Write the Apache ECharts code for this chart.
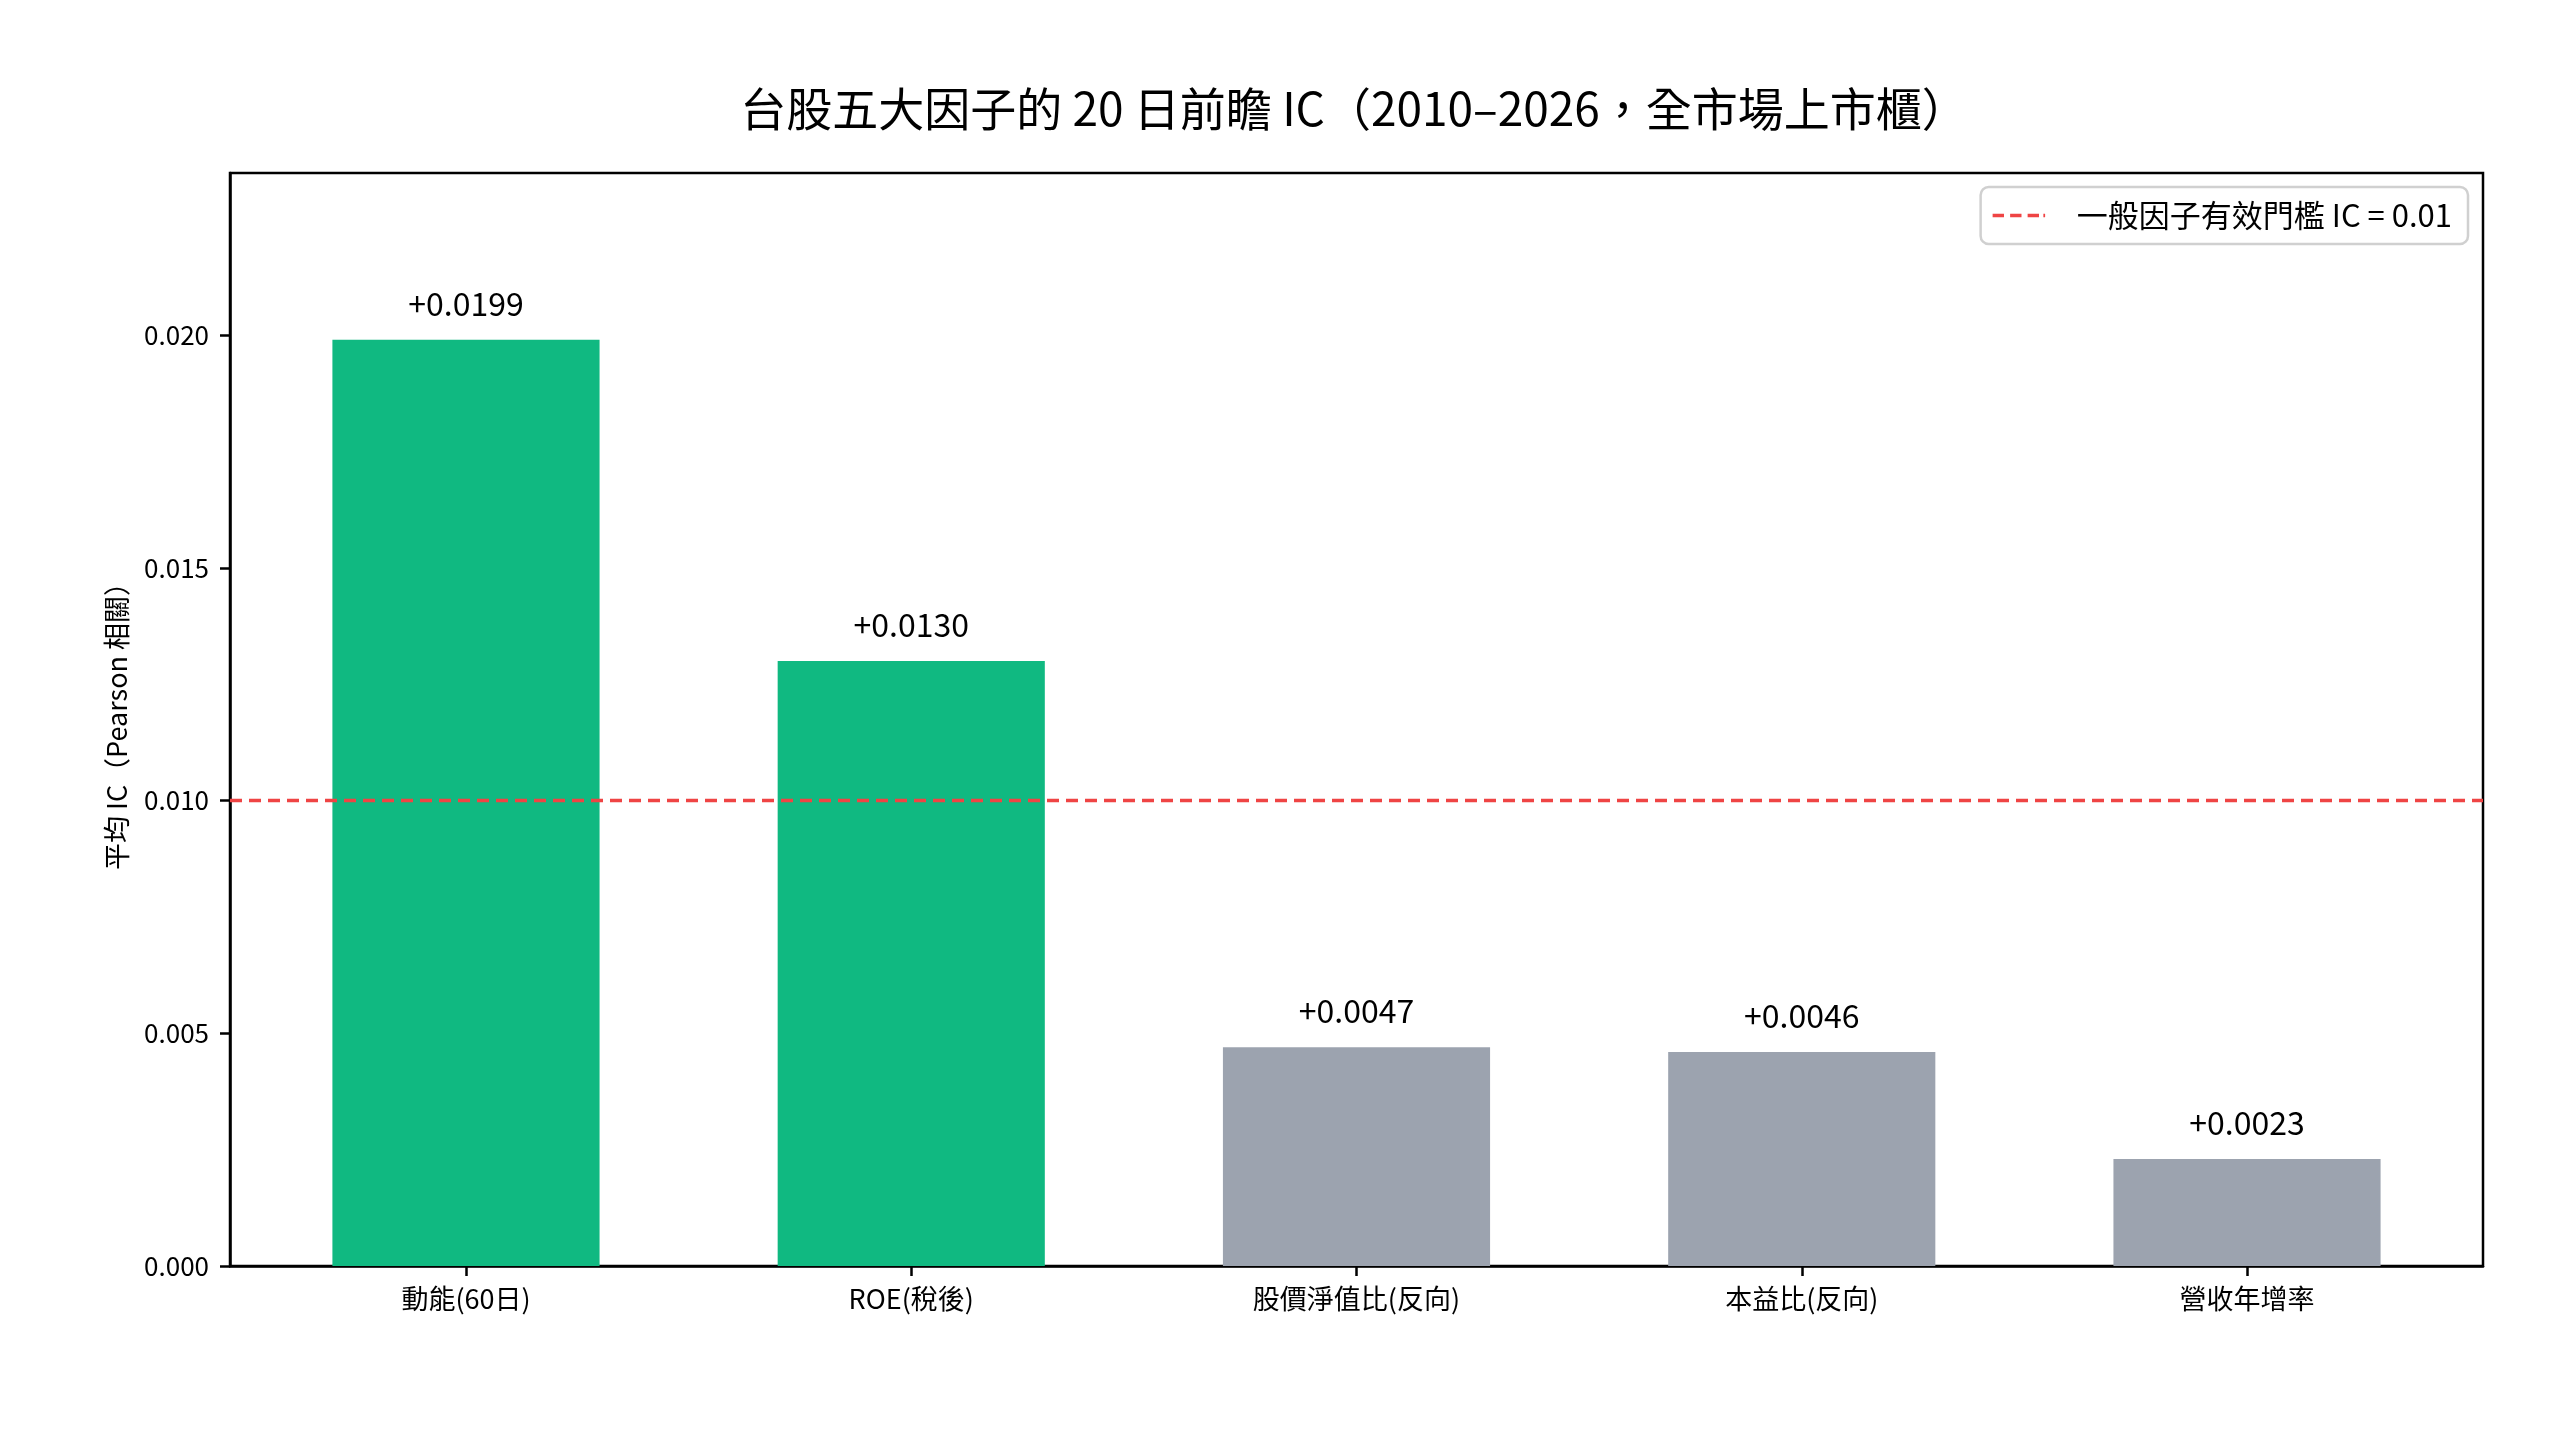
<!DOCTYPE html>
<html>
<head lang="zh-Hant">
    <meta charset="UTF-8">
    <title>台股五大因子 IC</title>
    <style type="text/css">
        html, body { margin: 0; padding: 0; background: #ffffff; }
        #main { width: 2560px; height: 1440px; }
    </style>
</head>
<body>
<div id="main"></div>
<script src="https://cdn.jsdelivr.net/npm/echarts@6/dist/echarts.min.js"></script>
<script type="text/javascript">
    // 因子名稱與平均 IC
    var factors = ['動能(60日)', 'ROE(稅後)', '股價淨值比(反向)', '本益比(反向)', '營收年增率'];
    var icValues = [0.0199, 0.0130, 0.0047, 0.0046, 0.0023];
    var yTicks = [0, 0.005, 0.010, 0.015, 0.020];
    var threshold = 0.01;
    var thresholdName = '一般因子有效門檻 IC = 0.01';
    var titleText = '台股五大因子的 20 日前瞻 IC（2010–2026，全市場上市櫃）';

    var green = '#10b981', gray = '#9ca3af', red = '#ef4444';
    var font = "'Noto Sans CJK TC', 'Noto Sans', sans-serif";
    var positions = factors.map(function (f, i) { return i; });

    var barData = icValues.map(function (v, i) {
        return {
            value: [i, v],
            itemStyle: { color: v >= threshold ? green : gray }
        };
    });

    // 標題置中於繪圖區（而非整張畫布）
    var titleSize = 46;
    var ctx = document.createElement('canvas').getContext('2d');
    ctx.font = titleSize + 'px ' + font;
    var titleW = ctx.measureText(titleText).width;
    var plotCenter = 1354;

    var myChart = echarts.init(document.getElementById('main'));
    var option = {
        backgroundColor: '#ffffff',
        textStyle: { fontFamily: font, color: '#000' },
        animation: false,
        title: {
            text: titleText,
            left: plotCenter - titleW / 2,
            top: 86,
            padding: 0,
            textStyle: { fontFamily: font, fontSize: titleSize, fontWeight: 'normal', color: '#000' }
        },
        legend: {
            right: 92,
            top: 187,
            padding: [13, 16, 13, 12],
            borderColor: '#d0d0d0',
            borderWidth: 2.5,
            borderRadius: 8,
            itemWidth: 60,
            itemHeight: 3.5,
            data: [{
                name: thresholdName,
                icon: 'path://M0,0H13V4H0Z M20,0H33V4H20Z M40,0H53V4H40Z M58,0H60V4H58Z'
            }],
            textStyle: { fontFamily: font, fontSize: 31, color: '#000', padding: [0, 0, 0, 23] }
        },
        grid: {
            left: 230,
            right: 77,
            top: 173,
            bottom: 174,
            show: true,
            borderColor: '#000',
            borderWidth: 2.5,
            containLabel: false
        },
        xAxis: {
            type: 'value',
            min: -0.53,
            max: 4.53,
            splitLine: { show: false },
            axisLine: { show: true, onZero: false, lineStyle: { color: '#000', width: 2.5 } },
            axisTick: {
                show: true, length: 10, lineStyle: { color: '#000', width: 2.5 },
                customValues: positions
            },
            axisLabel: {
                customValues: positions,
                margin: 19,
                fontSize: 27,
                color: '#000',
                fontFamily: font,
                formatter: function (v) { return factors[Math.round(v)]; }
            }
        },
        yAxis: {
            type: 'value',
            min: 0,
            max: 0.0199 * 1.18,
            name: '平均 IC（Pearson 相關）',
            nameLocation: 'middle',
            nameGap: 100,
            nameTextStyle: { fontFamily: font, fontSize: 27, color: '#000' },
            splitLine: { show: false },
            axisLine: { show: true, onZero: false, lineStyle: { color: '#000', width: 2.5 } },
            axisTick: {
                show: true, length: 10, lineStyle: { color: '#000', width: 2.5 },
                customValues: yTicks
            },
            axisLabel: {
                customValues: yTicks,
                margin: 21,
                fontSize: 26,
                color: '#000',
                fontFamily: font,
                formatter: function (v) { return v.toFixed(3); }
            }
        },
        series: [
            {
                name: 'IC',
                type: 'bar',
                data: barData,
                barWidth: 267,
                label: {
                    show: true,
                    position: 'top',
                    distance: 20,
                    fontSize: 32,
                    color: '#000',
                    fontFamily: font,
                    formatter: function (p) { return '+' + p.value[1].toFixed(4); }
                }
            },
            {
                name: thresholdName,
                type: 'line',
                data: [],
                itemStyle: { color: red },
                lineStyle: { color: red },
                markLine: {
                    silent: true,
                    symbol: 'none',
                    label: { show: false },
                    lineStyle: { color: red, width: 3.3, type: [12, 7] },
                    data: [{ yAxis: threshold }]
                }
            }
        ]
    };
    myChart.setOption(option);

    // 柱寬 = 0.6 個類別單位，依 x 軸比例換算成像素
    var w = myChart.convertToPixel({ xAxisIndex: 0 }, 0.6) - myChart.convertToPixel({ xAxisIndex: 0 }, 0);
    myChart.setOption({ series: [{ barWidth: w }] });
</script>
</body>
</html>
